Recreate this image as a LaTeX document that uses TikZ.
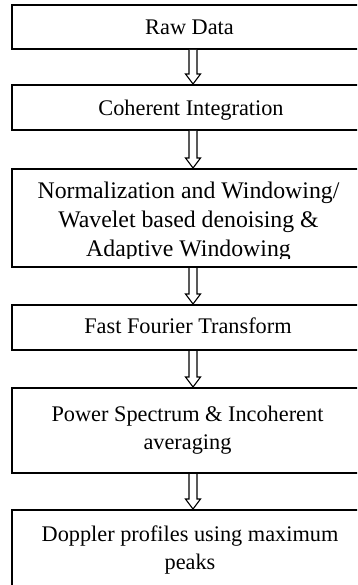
\documentclass[tikz,border=0pt]{standalone}
\usepackage{fontspec}
\setmainfont{Liberation Serif}
\usetikzlibrary{calc}
\begin{document}
\begin{tikzpicture}[x=1pt,y=-1pt,
  box/.style={draw, line width=2pt, minimum width=362pt, inner sep=0pt},
  lbl/.style={anchor=base, inner sep=0pt, font=\fontsize{22.3}{28.5}\selectfont},
  lblbig/.style={anchor=base, inner sep=0pt, font=\fontsize{23.8}{28.5}\selectfont},
  arr/.style={draw, line width=1.1pt, fill=white, line join=miter}]
\useasboundingbox (0,0) rectangle (357,585);
\clip (0,0) rectangle (357,585);
\fill[white] (0,0) rectangle (357,585);
\node[box, minimum height=44pt] (b1) at (193,27) {};
\node[box, minimum height=45pt] (b2) at (193,107.5) {};
\node[box, minimum height=98pt] (b3) at (193,218) {};
\node[box, minimum height=45pt] (b4) at (193,327.5) {};
\node[box, minimum height=85pt] (b5) at (193,430.5) {};
\node[box, minimum height=100pt] (b6) at (193,560) {};
\foreach \a/\b in {b1/b2,b2/b3,b3/b4,b4/b5,b5/b6}
  \draw[arr] ($(\a.south)+(-4,0)$) -- ($(\b.north)+(-4,-10)$) -- ($(\b.north)+(-7.5,-10)$) -- (\b.north) -- ($(\b.north)+(7.5,-10)$) -- ($(\b.north)+(4,-10)$) -- ($(\a.south)+(4,0)$);
\node[lbl] (t1) at (189.5,35) {Raw Data};
\node[lbl] (t2) at (191,116) {Coherent Integration};
\node[lblbig] (t3a) at (188.5,198) {Normalization and Windowing/};
\node[lblbig] (t3b) at (188.5,227) {Wavelet based denoising \&};
\begin{scope}
\clip (0,0) rectangle (357,258.5);
\node[lblbig] (t3c) at (188.5,256) {Adaptive Windowing};
\end{scope}
\node[lbl] (t4) at (188,333) {Fast Fourier Transform};
\node[lbl] (t5a) at (187.5,421) {Power Spectrum \& Incoherent};
\node[lbl] (t5b) at (187.5,449) {averaging};
\node[lbl] (t6a) at (190,541) {Doppler profiles using maximum};
\node[lbl] (t6b) at (190,569) {peaks};
\end{tikzpicture}
\end{document}
